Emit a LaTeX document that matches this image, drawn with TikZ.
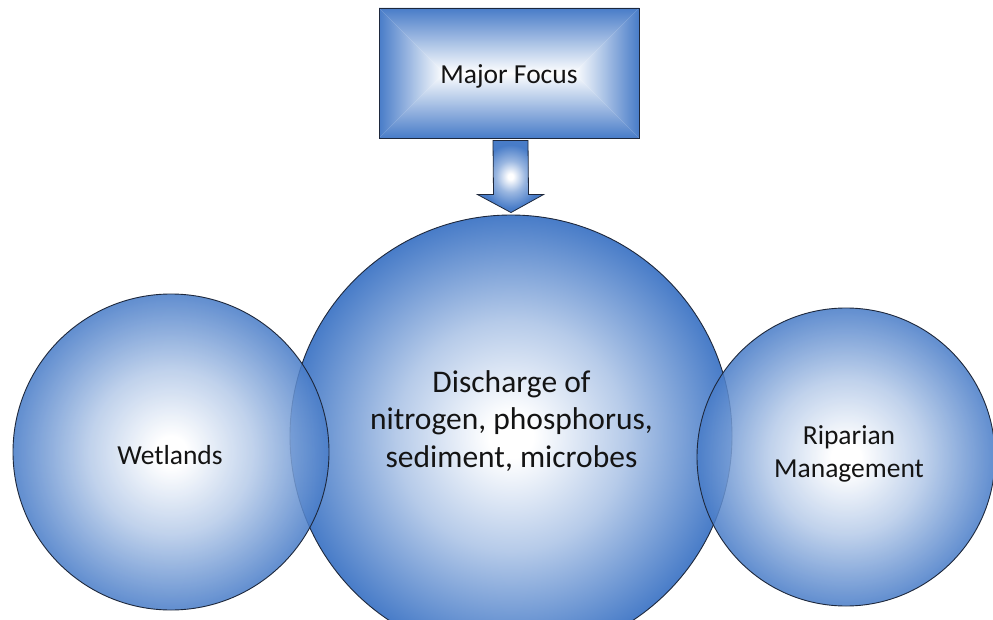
\documentclass[tikz,border=0pt]{standalone}
\usepackage{fontspec}
\setmainfont{Carlito}
\usetikzlibrary{calc}
\definecolor{blu}{RGB}{72,124,200}
\definecolor{edgeline}{RGB}{30,40,60}
\definecolor{txt}{RGB}{20,20,20}
\pgfdeclareradialshading{ballblue}{\pgfpoint{0bp}{0bp}}{%
  color(0bp)=(white); color(2.5bp)=(white); color(13bp)=(blu!40!white); color(25bp)=(blu); color(100bp)=(blu)}
\pgfdeclareradialshading{arrowblue}{\pgfpoint{0bp}{0bp}}{%
  color(0bp)=(white); color(2bp)=(white); color(11bp)=(blu!55!white); color(22bp)=(blu); color(100bp)=(blu)}
\tikzset{
  ball/.style={circle, draw=edgeline, line width=0.9pt, shading=ballblue, inner sep=0pt},
  sideball/.style={ball, fill opacity=0.86, draw opacity=1},
  lbl/.style={text=txt, align=center, font=\fontsize{27.5}{33.5}\selectfont},
  biglbl/.style={text=txt, align=center, font=\fontsize{31.5}{37.5}\selectfont},
  focusbox/.style={draw=edgeline, line width=0.9pt, minimum width=260pt, minimum height=130pt, inner sep=0pt,
    path picture={
      \coordinate (pNW) at (path picture bounding box.north west);
      \coordinate (pNE) at (path picture bounding box.north east);
      \coordinate (pSW) at (path picture bounding box.south west);
      \coordinate (pSE) at (path picture bounding box.south east);
      \coordinate (pC1) at ($(path picture bounding box.center)+(-65pt,0)$);
      \coordinate (pC2) at ($(path picture bounding box.center)+(65pt,0)$);
      \shade[top color=blu, bottom color=white] (pNW) -- (pNE) -- (pC2) -- (pC1) -- cycle;
      \shade[bottom color=blu, top color=white] (pSW) -- (pSE) -- (pC2) -- (pC1) -- cycle;
      \shade[left color=blu, right color=white] (pNW) -- (pSW) -- (pC1) -- cycle;
      \shade[right color=blu, left color=white] (pNE) -- (pSE) -- (pC2) -- cycle;
    }},
  blockarrow/.style={draw=edgeline, line width=0.8pt, shading=arrowblue}
}
\begin{document}
\begin{tikzpicture}[x=1pt,y=-1pt]
\useasboundingbox (0,0) rectangle (993,620);
\clip (0,0) rectangle (993,620);
\fill[white] (0,0) rectangle (993,620);
% main circle
\node[ball, minimum size=442pt] (main) at (511,436) {};
\node[biglbl] (maintext) at (511.5,421) {Discharge of\\nitrogen, phosphorus,\\sediment, microbes};
% side circles
\node[sideball, minimum size=316pt] (wet) at (171,452) {};
\node[lbl] (wettext) at (170,455) {Wetlands};
\node[sideball, minimum size=298pt] (rip) at (846,457) {};
\node[lbl] (riptext) at (849,454) {Riparian\\Management};
% top box
\node[focusbox] (focus) at (509,73) {};
\node[lbl] (focustext) at (509,76) {Major Focus};
% block arrow
\coordinate (atip) at ($(main.north)+(0,-2)$);
\shadedraw[blockarrow]
  ($(focus.south)+(-16,2)$) -- ($(focus.south)+(19,2)$) -- ($(atip)+(17.5,-18)$) -- ($(atip)+(32.5,-18)$)
  -- (atip) -- ($(atip)+(-33.5,-18)$) -- ($(atip)+(-17.5,-18)$) -- cycle;
\end{tikzpicture}
\end{document}
